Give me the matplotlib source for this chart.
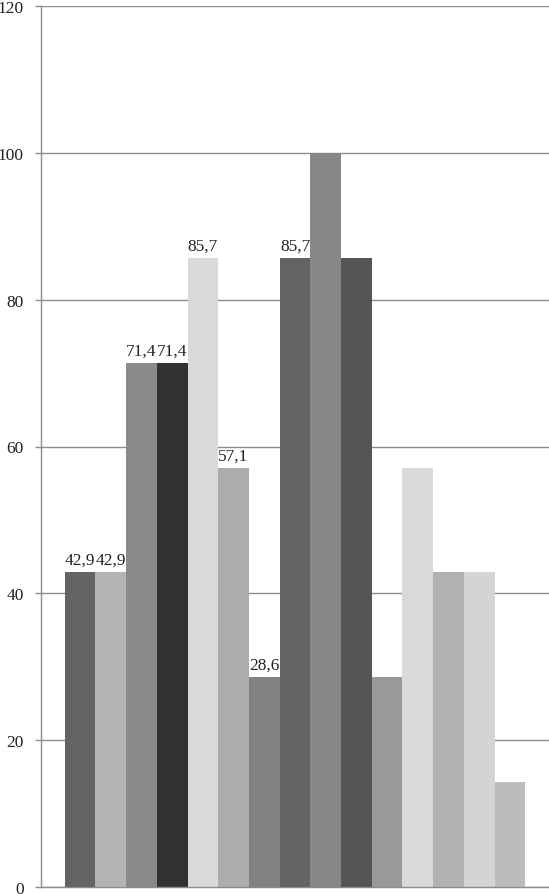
import matplotlib.pyplot as plt

values = [42.9, 42.9, 71.4, 71.4, 85.7, 57.1, 28.6, 85.7, 100, 85.7, 28.6, 57.1, 42.9, 42.9, 14.3]
colors = ['#646464', '#b4b4b4', '#8a8a8a', '#323232', '#d9d9d9', '#acacac', '#828282',
          '#636363', '#878787', '#555555', '#999999', '#d9d9d9', '#b2b2b2', '#d4d4d4', '#bcbcbc']
labelled = [True, True, True, True, True, True, True, True,
            False, False, False, False, False, False, False]
yticks = [0, 20, 40, 60, 80, 100, 120]

plt.rcParams['font.family'] = ['Liberation Serif', 'DejaVu Serif']

fig = plt.figure(figsize=(5.49, 8.95), dpi=100)
ax = fig.add_axes([0.0747, 0.0078, 0.9253, 0.9844])

x = list(range(len(values)))
bars = ax.bar(x, values, width=1.0, color=colors, zorder=2)

for xi, v, show in zip(x, values, labelled):
    if show:
        ax.text(xi, v + 0.6, f"{v:.1f}".replace('.', ','), ha='center', va='bottom',
                fontsize=12.5, color='#222222', zorder=3)

ax.set_xlim(-1.27, len(values) - 1 + 1.27)
ax.set_ylim(0, 120)
ax.set_yticks(yticks)
ax.set_yticklabels([str(t) for t in yticks], fontsize=12.5, color='#222222')
ax.set_xticks([])
ax.yaxis.grid(True, color='#8c8c8c', linewidth=1.0, zorder=0)
ax.tick_params(axis='y', length=4.5, width=1, color='#8c8c8c', pad=8)

for side in ['top', 'right']:
    ax.spines[side].set_visible(False)
ax.spines['left'].set_color('#8c8c8c')
ax.spines['bottom'].set_color('#8c8c8c')
ax.spines['left'].set_linewidth(1.0)
ax.spines['bottom'].set_linewidth(1.0)

fig.savefig('out.png', dpi=100)
